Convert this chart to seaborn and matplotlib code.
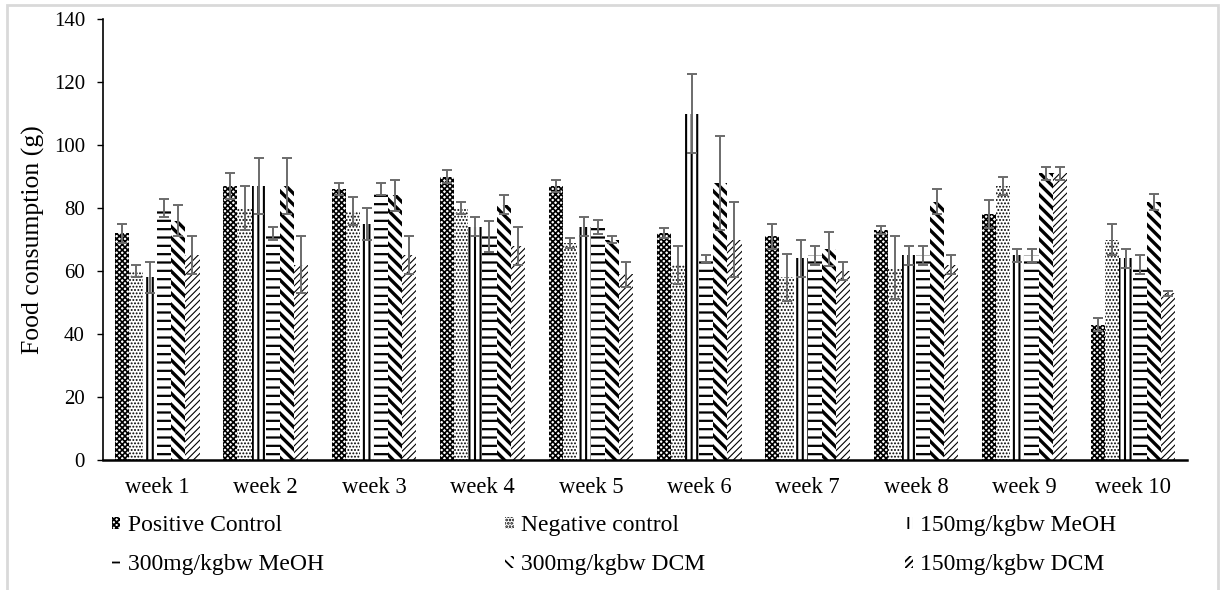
import seaborn as sns
import pandas as pd
import matplotlib.pyplot as plt
from matplotlib.patches import Patch, Rectangle

# Datos
weeks = ['week 1', 'week 2', 'week 3', 'week 4', 'week 5',
         'week 6', 'week 7', 'week 8', 'week 9', 'week 10']
groups = ['Positive Control', 'Negative control', '150mg/kgbw MeOH',
          '300mg/kgbw MeOH', '300mg/kgbw DCM', '150mg/kgbw DCM']

positive_control = [72, 87, 86, 90, 87, 72, 71, 73, 78, 43]
negative_control = [60, 80, 79, 80, 69, 62, 58, 61, 87, 70]
meoh_150 = [58, 87, 75, 74, 74, 110, 64, 65, 65, 64]
meoh_300 = [80, 72, 86, 71, 74, 64, 65, 65, 65, 62]
dcm_300 = [76, 87, 84, 81, 70, 88, 67, 82, 91, 82]
dcm_150 = [65, 62, 65, 68, 59, 70, 60, 62, 91, 53]

positive_err = [3, 4, 2, 2, 2, 1.5, 4, 1.3, 4.5, 2]
negative_err = [2, 7, 4.5, 2, 1.6, 6, 7.5, 10, 3, 5]
meoh_150_err = [5, 9, 5, 3, 3, 12.5, 6, 3, 2, 3]
meoh_300_err = [3, 2, 2, 5, 2.3, 1, 3, 3, 2, 3]
dcm_300_err = [5, 9, 5, 3, 1, 15, 5.5, 4, 2, 2.5]
dcm_150_err = [6, 9, 6, 6, 4, 12, 3, 3, 2, 0.8]

values = [positive_control, negative_control, meoh_150, meoh_300, dcm_300, dcm_150]
errors = [positive_err, negative_err, meoh_150_err, meoh_300_err, dcm_300_err, dcm_150_err]
hatches = ['xxxxxx', '.....', '|||', '--', '\\\\\\', '/////']
hatch_lw = [1.2, 0.9, 1.5, 1.6, 2.4, 0.8]

rows = []
for g, vals in zip(groups, values):
    for w, v in zip(weeks, vals):
        rows.append({'week': w, 'group': g, 'value': v})
df = pd.DataFrame(rows)

plt.rcParams['font.family'] = ['Liberation Serif', 'DejaVu Serif']
plt.rcParams['hatch.linewidth'] = 1.3

fig = plt.figure(figsize=(12.21, 5.9), dpi=100)
ax = fig.add_axes([0.0844, 0.2203, 0.8878, 0.7475])

sns.barplot(data=df, x='week', y='value', hue='group', errorbar=None,
            width=0.78, legend=False, ax=ax)


def style_patch(p, h, lw):
    p.set_facecolor('white')
    p.set_edgecolor('black')
    p.set_linewidth(0)
    p.set_hatch(h)
    if hasattr(p, 'set_hatch_linewidth'):
        p.set_hatch_linewidth(lw)


# Tramas en blanco y negro + barras de error
for cont, h, lw, errs in zip(ax.containers, hatches, hatch_lw, errors):
    xs, ys = [], []
    for bar in cont:
        style_patch(bar, h, lw)
        xs.append(bar.get_x() + bar.get_width() / 2)
        ys.append(bar.get_height())
    ax.errorbar(xs, ys, yerr=errs, fmt='none', ecolor='#6b6b6b',
                elinewidth=1.4, capsize=3.5, capthick=1.4)

ax.set_ylim(0, 140)
ax.set_yticks(range(0, 141, 20))
ax.set_xlim(-0.5, 9.5)
ax.set_xlabel('')
ax.set_ylabel('Food consumption (g)', fontsize=18.5, labelpad=6)
ax.tick_params(axis='y', labelsize=15, length=4, width=1, direction='out', pad=9)
ax.tick_params(axis='x', labelsize=16.3, length=0, pad=12)
for s in ['top', 'right']:
    ax.spines[s].set_visible(False)
ax.spines['left'].set_linewidth(1.2)
ax.spines['bottom'].set_linewidth(1.8)

# Leyenda en dos filas
legend_pos = [(0.0917, 0.1085), (0.4136, 0.1085), (0.741, 0.1085),
              (0.0917, 0.0424), (0.4136, 0.0424), (0.741, 0.0424)]
for g, h, lw, (lx, ly) in zip(groups, hatches, hatch_lw, legend_pos):
    handle = Patch()
    style_patch(handle, h, lw)
    fig.legend([handle], [g], loc='center left', bbox_to_anchor=(lx, ly),
               frameon=False, fontsize=17, handlelength=0.36, handleheight=0.45,
               handletextpad=0.3, borderpad=0, borderaxespad=0)

fig.patches.append(Rectangle((7 / 1221, -0.05), 1211 / 1221, 1.05 - 5 / 590,
                             transform=fig.transFigure, fill=False,
                             edgecolor='#d9d9d9', linewidth=2))

fig.savefig('out.png', dpi=100)
